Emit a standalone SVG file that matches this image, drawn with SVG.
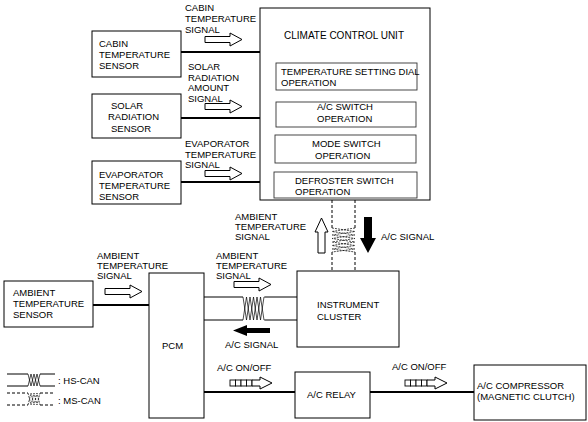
<svg xmlns="http://www.w3.org/2000/svg" width="588" height="422" viewBox="0 0 588 422">
<style>
text{font-family:"Liberation Sans",Arial,sans-serif;font-size:9.5px;fill:#000}
.box{fill:#fff;stroke:#000;stroke-width:1}
.ibox{fill:#fff;stroke:#333;stroke-width:0.9}
.thick{stroke:#000;stroke-width:2;fill:none}
.thin{stroke:#000;stroke-width:1;fill:none}
.dash{stroke:#000;stroke-width:1;fill:none;stroke-dasharray:3,2}
.tw{stroke:#000;stroke-width:0.7;fill:none}
.twd{stroke:#000;stroke-width:0.7;fill:none;stroke-dasharray:2,1}
.oa{fill:#fff;stroke:#000;stroke-width:1}
.ba{fill:#000;stroke:none}
.sq{fill:#fff;stroke:#000;stroke-width:0.9}
</style>
<defs>
<path id="openR" d="M0,3.5 H25 V0 L37,6.5 L25,13 V9.5 H0 Z"/>
<g id="sqArrow">
<rect class="sq" x="0" y="2" width="5.5" height="6"/>
<rect class="sq" x="5.5" y="2" width="5.5" height="6"/>
<rect class="sq" x="11" y="2" width="5.5" height="6"/>
<rect class="sq" x="16.5" y="2" width="5.5" height="6"/>
<path class="oa" d="M22,2 H30 V-1 L42,5 L30,11 V8 H22 Z"/>
</g>
</defs>

<g id="connectors">
<line class="thick" x1="181" y1="52" x2="260" y2="52"/>
<line class="thick" x1="181" y1="118" x2="260" y2="118"/>
<line class="thick" x1="181" y1="182" x2="260" y2="182"/>
<line class="thick" x1="93" y1="305" x2="149" y2="305"/>
<line class="thick" x1="204" y1="392" x2="295" y2="392"/>
<line class="thick" x1="370" y1="392" x2="474" y2="392"/>
<!-- HS-CAN PCM - IC -->
<path class="thin" d="M204,297 H243 M265,297 H297 M204,320 H243 M265,320 H297"/>
<polyline class="tw" points="243,297 246.5,320 250,297 253.5,320 257,297 260.5,320 264,297 265,297"/>
<polyline class="tw" points="243,320 246.5,297 250,320 253.5,297 257,320 260.5,297 264,320 265,320"/>
<!-- MS-CAN CCU - IC -->
<path class="dash" d="M332,200 V228 M332,252 V271 M355,200 V228 M355,252 V271"/>
<polyline class="twd" points="332,228 355,231.5 332,235 355,238.5 332,242 355,245.5 332,249 355,252"/>
<polyline class="twd" points="355,228 332,231.5 355,235 332,238.5 355,242 332,245.5 355,249 332,252"/>
<!-- signal arrows -->
<use href="#openR" class="oa" x="205" y="33"/>
<use href="#openR" class="oa" x="205" y="100"/>
<use href="#openR" class="oa" x="205" y="167"/>
<use href="#openR" class="oa" x="105" y="285"/>
<use href="#openR" class="oa" x="234" y="278"/>
<path class="oa" d="M318,253 V232 H315 L321.5,218 L328,232 H325 V253 Z"/>
<path class="ba" d="M364,217 H372 V238 H376 L368,253 L360,238 H364 Z"/>
<path class="ba" d="M270,328 H247 V325 L233,330.5 L247,336 V333 H270 Z"/>
<use href="#sqArrow" x="230" y="378"/>
<use href="#sqArrow" x="405" y="378"/>
<!-- connector labels -->
<text x="185" y="11">CABIN</text>
<text x="185" y="22">TEMPERATURE</text>
<text x="185" y="33">SIGNAL</text>
<text x="188" y="70">SOLAR</text>
<text x="188" y="80.5">RADIATION</text>
<text x="188" y="91">AMOUNT</text>
<text x="188" y="101.5">SIGNAL</text>
<text x="185" y="147">EVAPORATOR</text>
<text x="185" y="157.5">TEMPERATURE</text>
<text x="185" y="168">SIGNAL</text>
<text x="235" y="219.5">AMBIENT</text>
<text x="235" y="229.5">TEMPERATURE</text>
<text x="235" y="239.5">SIGNAL</text>
<text x="381" y="240">A/C SIGNAL</text>
<text x="97" y="259">AMBIENT</text>
<text x="97" y="269">TEMPERATURE</text>
<text x="97" y="279">SIGNAL</text>
<text x="216" y="258.5">AMBIENT</text>
<text x="216" y="268.5">TEMPERATURE</text>
<text x="216" y="278.5">SIGNAL</text>
<text x="225" y="348">A/C SIGNAL</text>
<text x="217" y="371">A/C ON/OFF</text>
<text x="392" y="370">A/C ON/OFF</text>
</g>

<g id="cabin-sensor">
<rect class="box" x="92" y="31" width="89" height="46"/>
<text x="99" y="47">CABIN</text>
<text x="99" y="57.5">TEMPERATURE</text>
<text x="99" y="68.5">SENSOR</text>
</g>
<g id="solar-sensor">
<rect class="box" x="92" y="94" width="89" height="44"/>
<text x="111" y="108.5">SOLAR</text>
<text x="108" y="120">RADIATION</text>
<text x="111" y="131.5">SENSOR</text>
</g>
<g id="evaporator-sensor">
<rect class="box" x="92" y="161" width="89" height="43"/>
<text x="99" y="177.5">EVAPORATOR</text>
<text x="99" y="188.5">TEMPERATURE</text>
<text x="99" y="199.5">SENSOR</text>
</g>
<g id="climate-control-unit">
<rect class="box" x="260" y="8" width="170" height="192"/>
<text x="284" y="39" style="font-size:10px">CLIMATE CONTROL UNIT</text>
<rect class="ibox" x="276" y="63" width="141" height="27"/>
<text x="281" y="75">TEMPERATURE SETTING DIAL</text>
<text x="281" y="86">OPERATION</text>
<rect class="ibox" x="276" y="102" width="140" height="25"/>
<text x="317" y="110">A/C SWITCH</text>
<text x="317" y="122">OPERATION</text>
<rect class="ibox" x="275" y="135" width="141" height="28"/>
<text x="312" y="147">MODE SWITCH</text>
<text x="315" y="158.5">OPERATION</text>
<rect class="ibox" x="274" y="172" width="143" height="26"/>
<text x="295" y="183.5">DEFROSTER SWITCH</text>
<text x="295" y="195">OPERATION</text>
</g>
<g id="ambient-sensor">
<rect class="box" x="4" y="281" width="89" height="46"/>
<text x="13" y="296">AMBIENT</text>
<text x="13" y="307">TEMPERATURE</text>
<text x="13" y="318">SENSOR</text>
</g>
<g id="pcm">
<rect class="box" x="149" y="273" width="55" height="145"/>
<text x="162" y="349">PCM</text>
</g>
<g id="instrument-cluster">
<rect class="box" x="297" y="271" width="102" height="76"/>
<text x="317" y="307.5">INSTRUMENT</text>
<text x="317" y="320">CLUSTER</text>
</g>
<g id="ac-relay">
<rect class="box" x="295" y="372" width="75" height="46"/>
<text x="307" y="397.5">A/C RELAY</text>
</g>
<g id="ac-compressor">
<rect class="box" x="474" y="365" width="112" height="55"/>
<text x="477" y="388.5">A/C COMPRESSOR</text>
<text x="477" y="400">(MAGNETIC CLUTCH)</text>
</g>
<g id="legend">
<path class="thin" d="M7,374 H28 M40,374 H55 M7,386 H28 M40,386 H55"/>
<polyline class="tw" points="28,374 31,386 34,374 37,386 40,374"/>
<polyline class="tw" points="28,386 31,374 34,386 37,374 40,386"/>
<text x="58" y="384">: HS-CAN</text>
<path class="dash" d="M7,393 H28 M40,393 H55 M7,405 H28 M40,405 H55"/>
<polyline class="twd" points="28,393 31,405 34,393 37,405 40,393"/>
<polyline class="twd" points="28,405 31,393 34,405 37,393 40,405"/>
<text x="58" y="404">: MS-CAN</text>
</g>
</svg>
